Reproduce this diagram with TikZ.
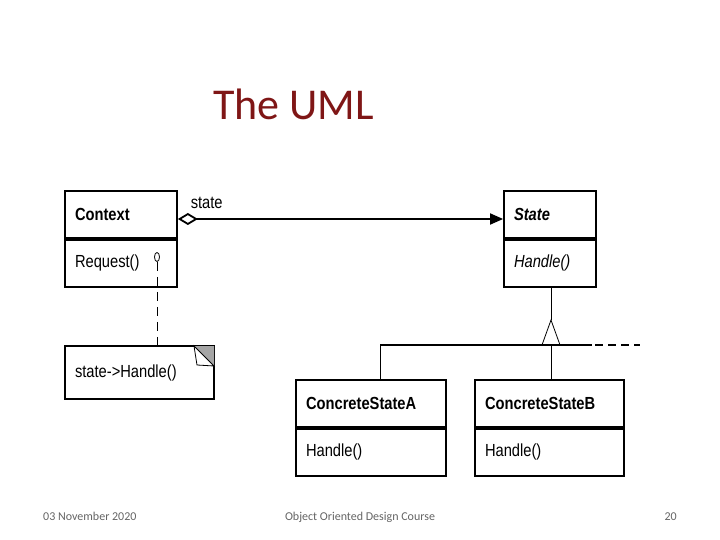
\documentclass[tikz,border=0pt]{standalone}
\usepackage{fontspec}
\setmainfont{Carlito}
\newfontfamily\umlfont[FakeStretch=0.84]{Liberation Sans}
\usetikzlibrary{arrows.meta, shapes.geometric}
\definecolor{titlered}{RGB}{127,22,22}
\definecolor{footgray}{RGB}{100,100,100}
\definecolor{foldgray}{RGB}{165,165,165}

\tikzset{
	compart/.style={draw, line width=1.8pt, text width=#1, minimum height=47pt, inner xsep=10pt, inner ysep=0pt, align=left, font=\umlfont\fontsize{17.5}{20}\selectfont},
	footer/.style={text=footgray, font=\fontsize{12}{14}\selectfont, inner sep=0pt},
}

\begin{document}
\begin{tikzpicture}[x=1pt, y=-1pt]

	\useasboundingbox (0,0) rectangle (720,540);

	\node[anchor=base west, text=titlered, font=\fontsize{44}{50}\selectfont, inner sep=0pt] (title) at (213,120) {The UML};

	\node[compart=92pt] (ctxname) at (121,214.5) {\textbf{Context}};
	\node[compart=92pt, anchor=north] (ctxops) at (ctxname.south) {Request()};
	\node[draw, ellipse, minimum width=5pt, minimum height=9pt, inner sep=0pt, line width=0.8pt] (hook) at (157,257) {};

	\node[compart=129pt, minimum height=53pt] (notebox) at (139.5,372.5) {state->Handle()};
	\fill[foldgray] (194,346) -- (214,346) -- (214,366) -- cycle;
	\draw[fill=white, line width=0.8pt] (194,346) -- (197,365) -- (214,366) -- cycle;

	\node[compart=72pt] (statename) at (550,214.5) {\textbf{\itshape State}};
	\node[compart=72pt, anchor=north] (stateops) at (statename.south) {\itshape Handle()};

	\node[compart=130pt] (caname) at (371,403.5) {\textbf{ConcreteStateA}};
	\node[compart=130pt, anchor=north] (caops) at (caname.south) {Handle()};
	\node[compart=129pt] (cbname) at (549.5,403.5) {\textbf{ConcreteStateB}};
	\node[compart=129pt, anchor=north] (cbops) at (cbname.south) {Handle()};

	\coordinate (hub) at (551,345);
	\coordinate (apex) at (551,320);
	\coordinate (adrop) at (380,345);
	\coordinate (rend) at (592,345);
	\coordinate (dend) at (640,345);

	\draw[line width=1.8pt, {Diamond[open, length=20pt, width=12pt]}-{Triangle[length=13pt, width=11pt]}] ([yshift=-4.5pt]ctxname.east) -- ([yshift=-4.5pt]statename.west) node[pos=0, anchor=south west, xshift=12pt, yshift=9pt, inner sep=0pt, font=\umlfont\fontsize{17.5}{20}\selectfont] (rolelabel) {state};

	\draw[dash pattern=on 9pt off 6pt, line width=0.8pt] (hook.south) -- (hook.south |- notebox.north);

	\draw[line width=0.8pt] (stateops.south -| apex) -- (apex);
	\draw[line width=0.8pt] (apex) -- ++(-9,25) -- ++(18,0) -- cycle;
	\draw[line width=1.8pt] (adrop) -- (rend);
	\draw[line width=1.8pt, dash pattern=on 8pt off 5pt] (rend) ++(3,0) -- (dend);
	\draw[line width=0.8pt] (adrop) -- (adrop |- caname.north);
	\draw[line width=0.8pt] (hub) -- (hub |- cbname.north);

	\node[footer, anchor=base west] (date) at (43,520) {03 November 2020};
	\node[footer, anchor=base] (course) at (360,520) {Object Oriented Design Course};
	\node[footer, anchor=base east] (page) at (677,520) {20};

\end{tikzpicture}
\end{document}
